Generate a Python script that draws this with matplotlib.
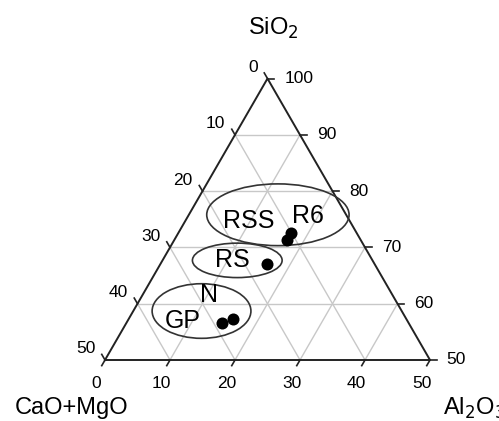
import numpy as np
import matplotlib
matplotlib.use("Agg")
import matplotlib.pyplot as plt
from matplotlib.patches import Ellipse

plt.rcParams['font.family'] = ['Liberation Sans', 'DejaVu Sans']

# sample compositions (wt%): SiO2 and Al2O3, CaO+MgO is the rest
sio2 = [71.4, 72.5, 67.1, 56.5, 57.3]
al2o3 = [17.3, 17.4, 16.4, 14.7, 16.0]

# group outlines: centre (SiO2, Al2O3), width, height (in plot units)
groups = ["RSS", "RS", "GP"]
grp_sio2 = [75.8, 67.7, 58.7]
grp_al2o3 = [13.7, 11.5, 10.5]
grp_w = [21.9, 13.8, 15.2]
grp_h = [9.5, 5.3, 8.4]

# labels
lab_text = ["RSS", "R6", "RS", "N", "GP"]
lab_sio2 = [74.7, 75.5, 67.8, 61.5, 57.0]
lab_al2o3 = [9.7, 18.5, 10.7, 10.2, 8.5]

ticks = [0, 10, 20, 30, 40, 50]
H = np.sqrt(3) / 2


def xy(s, a):
    s = np.asarray(s, float)
    a = np.asarray(a, float)
    return a + 0.5 * (s - 50), (s - 50) * H


fig = plt.figure(figsize=(4.99, 4.21), dpi=100)
ax = fig.add_axes([0, 0, 1, 1])
ax.set_xlim(-105 / 6.5, (499 - 105) / 6.5)
ax.set_ylim(-(421 - 360) / 6.5, 360 / 6.5)
ax.axis("off")

grid_kw = dict(color="#c8c8c8", lw=1.0, zorder=1)
for v in [10, 20, 30, 40]:
    # constant SiO2 (horizontal)
    s = 50 + v
    x0, y0 = xy(s, 0)
    x1, y1 = xy(s, 100 - s)
    ax.plot([x0, x1], [y0, y1], **grid_kw)
    # constant Al2O3
    x0, y0 = xy(50, v)
    x1, y1 = xy(100 - v, v)
    ax.plot([x0, x1], [y0, y1], **grid_kw)
    # constant CaO+MgO
    x0, y0 = xy(50, 50 - v)
    x1, y1 = xy(100 - v, 0)
    ax.plot([x0, x1], [y0, y1], **grid_kw)

# triangle
tx, ty = xy([50, 50, 100, 50], [0, 50, 0, 0])
ax.plot(tx, ty, color="#222222", lw=1.4, zorder=3)

tl = 1.0
edge_kw = dict(color="#222222", lw=1.2, zorder=3)
tick_fs = 12.5
for t in ticks:
    # bottom axis: Al2O3
    x, y = xy(50, t)
    ax.plot([x, x - 0.5 * tl], [y, y - H * tl], **edge_kw)
    ax.annotate(str(t), (x, y), xytext=(-6, -17), textcoords="offset points",
                ha="center", va="center", fontsize=tick_fs)
    # left axis: CaO+MgO
    x, y = xy(100 - t, 0)
    ax.plot([x, x - 0.5 * tl], [y, y + H * tl], **edge_kw)
    ax.annotate(str(t), (x, y), xytext=(-7, 8), textcoords="offset points",
                ha="right", va="center", fontsize=tick_fs)
    # right axis: SiO2
    s = 50 + t
    x, y = xy(s, 100 - s)
    ax.plot([x, x + tl], [y, y], **edge_kw)
    ax.annotate(str(s), (x, y), xytext=(12, 0), textcoords="offset points",
                ha="left", va="center", fontsize=tick_fs)

# group ellipses
for s, a, w, h in zip(grp_sio2, grp_al2o3, grp_w, grp_h):
    cx, cy = xy(s, a)
    ax.add_patch(Ellipse((cx, cy), w, h, fill=False, ec="#333333", lw=1.2, zorder=4))

# samples
px, py = xy(sio2, al2o3)
ax.scatter(px, py, s=75, color="black", zorder=5, linewidths=0)

for t, s, a in zip(lab_text, lab_sio2, lab_al2o3):
    x, y = xy(s, a)
    ax.text(x, y, t, fontsize=18, ha="center", va="center", zorder=6)

# component names
fig.text(273 / 499, 1 - 28 / 421, "SiO$_2$", fontsize=17, ha="center", va="center")
fig.text(72 / 499, 1 - 408 / 421, "CaO+MgO", fontsize=17, ha="center", va="center")
fig.text(443 / 499, 1 - 408 / 421, "Al$_2$O$_3$", fontsize=17, ha="left", va="center")

fig.savefig("out.png", dpi=100)
